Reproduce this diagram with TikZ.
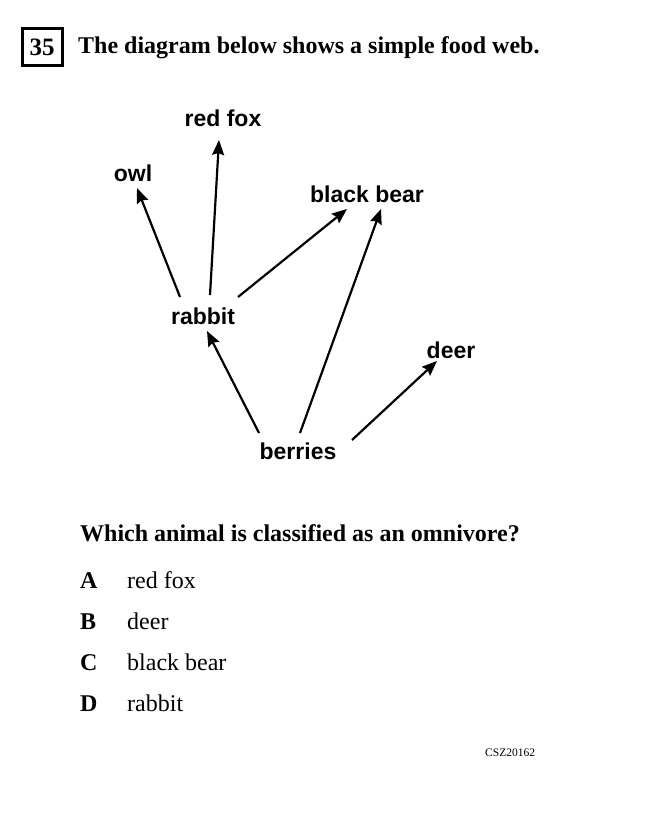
\documentclass[tikz,border=0pt]{standalone}
\usepackage{fontspec}
\setmainfont{Liberation Serif}
\newfontfamily\websans{Liberation Sans}
\usetikzlibrary{calc, arrows.meta}

\tikzset{
	organism/.style={font=\websans\bfseries\fontsize{23}{27}\selectfont, inner sep=0pt},
	eats/.style={line width=2.2pt, -{Stealth[length=15pt, width=12pt, inset=2pt]}},
	serif/.style={anchor=base west, inner sep=0pt, font=\fontsize{24}{28}\selectfont}
}

\begin{document}
\begin{tikzpicture}[x=1pt, y=-1pt]
		% page frame
		\useasboundingbox (0,0) rectangle (646,820);
		
		% question number and title
		\draw[line width=3pt] (22,28) rectangle (62,65);
		\node[serif, font=\bfseries\fontsize{25}{28}\selectfont, anchor=base] (num) at (42,55) {35};
		\node[serif, font=\bfseries\fontsize{24}{28}\selectfont] (title) at (78,53) {The diagram below shows a simple food web.};
		
		% the organisms
		\node[organism] (fox) at (223,118) {red fox};
		\node[organism] (owl) at (133,173) {owl};
		\node[organism] (bear) at (367,194) {black bear};
		\node[organism] (rabbit) at (203,316) {rabbit};
		\node[organism] (deer) at (451,350) {deer};
		\node[organism] (berries) at (298,451) {berries};
		
		% Draw the rabbit arrows
		\draw[eats] ($(rabbit)+(-23,-19)$) -- ($(owl)+(4,15)$);
		\draw[eats] ($(rabbit)+(7,-21)$) -- ($(fox)+(-4,22)$);
		\draw[eats] ($(rabbit)+(35,-19)$) -- ($(bear)+(-20,15)$);
		
		% Draw the berries arrows
		\draw[eats] ($(berries)+(-39,-18)$) -- ($(rabbit)+(4,15)$);
		\draw[eats] ($(berries)+(2,-18)$) -- ($(bear)+(14,15)$);
		\draw[eats] ($(berries)+(54,-11)$) -- ($(deer)+(-14,11)$);
		
		% question
		\node[serif, font=\bfseries\fontsize{24}{28}\selectfont] (question) at (80,541) {Which animal is classified as an omnivore?};
		
		% choices
		\node[serif, font=\bfseries\fontsize{24}{28}\selectfont] (la) at (80,588) {A};
		\node[serif] (ta) at (127,588) {red fox};
		\node[serif, font=\bfseries\fontsize{24}{28}\selectfont] (lb) at (80,629) {B};
		\node[serif] (tb) at (127,629) {deer};
		\node[serif, font=\bfseries\fontsize{24}{28}\selectfont] (lc) at (80,670) {C};
		\node[serif] (tc) at (127,670) {black bear};
		\node[serif, font=\bfseries\fontsize{24}{28}\selectfont] (ld) at (80,711) {D};
		\node[serif] (td) at (127,711) {rabbit};
		
		% item code
		\node[serif, font=\fontsize{11.5}{13}\selectfont] (code) at (485,756) {CSZ20162};
		
	\end{tikzpicture}
\end{document}
